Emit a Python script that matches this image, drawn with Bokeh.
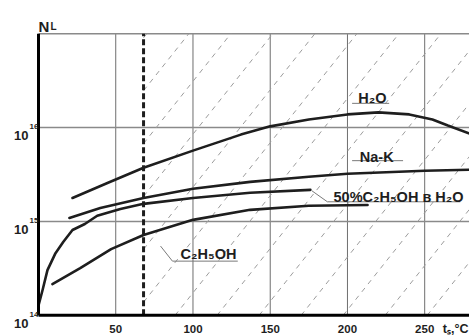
from bokeh.plotting import figure
from bokeh.models import Label, Range1d
from bokeh.embed import file_html
from bokeh.resources import INLINE

# ---------------- data ----------------
t_h2o = [22, 45, 68, 100, 131, 150, 175, 200, 220, 240, 255, 265, 279]
n_h2o = [1.78e15, 2.58e15, 3.73e15, 5.68e15, 8.41e15, 1.03e16, 1.22e16,
         1.38e16, 1.45e16, 1.38e16, 1.22e16, 1.05e16, 8.63e15]

t_nak = [20, 40, 68, 100, 137, 175, 200, 250, 279]
n_nak = [1.09e15, 1.39e15, 1.78e15, 2.23e15, 2.64e15, 2.99e15, 3.22e15,
         3.47e15, 3.56e15]

t_mix = [0, 2.6, 5.8, 11, 16, 22, 30, 38, 53, 68, 100, 137, 176]
n_mix = [1.28e14, 1.85e14, 3.03e14, 4.60e14, 6.04e14, 8.11e14, 9.40e14,
         1.15e15, 1.36e15, 1.54e15, 1.78e15, 2.02e15, 2.17e15]

t_eth = [9, 27, 47, 68, 100, 137, 175, 213]
n_eth = [2.15e14, 3.18e14, 5.08e14, 7.18e14, 1.04e15, 1.33e15, 1.47e15, 1.50e15]

t_boundary = 68

x_ticks = [50, 100, 150, 200, 250]
y_ticks = [1e14, 1e15, 1e16]
y_tick_exp = ["14", "15", "16"]

series_names = ["H\u2082O", "Na-K", "50%C\u2082H\u2085OH \u0432 H\u2082O", "C\u2082H\u2085OH"]

# ---------------- layout / style ----------------
X_MIN, X_MAX = 0, 279          # plotting area
Y_MIN, Y_MAX = 1e14, 1e17
VIEW_X = (-24.6, 279)          # whole canvas incl. margins (labels live there)
VIEW_Y = (10 ** 13.775, 10 ** 17.353)
FONT = "'Liberation Sans', Arial, sans-serif"
INK = "#1e1e1e"

p = figure(width=469, height=336, output_backend="svg", toolbar_location=None,
           x_range=Range1d(*VIEW_X), y_range=Range1d(*VIEW_Y),
           y_axis_type="log", x_axis_location=None, y_axis_location=None,
           min_border=0)
p.outline_line_color = None
p.background_fill_color = "white"
p.border_fill_color = "white"
p.grid.visible = False

# grid lines
p.segment(x0=x_ticks, y0=[Y_MIN] * len(x_ticks), x1=x_ticks, y1=[Y_MAX] * len(x_ticks),
          line_color="#6e6e6e", line_width=1)
gy = y_ticks[1:] + [Y_MAX]
p.segment(x0=[X_MIN] * len(gy), y0=gy, x1=[X_MAX] * len(gy), y1=gy,
          line_color="#8a8a8a", line_width=1.5)

# diagonal hatch in the region right of the boundary
slope = 0.0207      # decades per degree
spacing = 27.2      # degrees between hatch lines
phase = 142.8
x0s, y0s, x1s, y1s = [], [], [], []
for n in range(-10, 8):
    xb = phase + spacing * n
    xs = max(xb, t_boundary)
    ls = 14 + slope * (xs - xb)
    if ls >= 17 or xs >= X_MAX:
        continue
    xe = xb + 3 / slope
    le = 17.0
    if xe > X_MAX:
        xe = X_MAX
        le = 14 + slope * (X_MAX - xb)
    x0s.append(xs); y0s.append(10 ** ls); x1s.append(xe); y1s.append(10 ** le)
p.segment(x0=x0s, y0=y0s, x1=x1s, y1=y1s, line_color="#9c9c9c",
          line_width=1, line_dash="5 5")

# boundary dashed line
p.segment(x0=[t_boundary], y0=[Y_MIN], x1=[t_boundary], y1=[Y_MAX],
          line_color=INK, line_width=3, line_dash="6 3")

# curves
for xs, ys in [(t_h2o, n_h2o), (t_nak, n_nak), (t_mix, n_mix), (t_eth, n_eth)]:
    p.line(xs, ys, line_color=INK, line_width=2.6, line_join="round", line_cap="round")

# axes lines
p.segment(x0=[X_MIN, X_MIN], y0=[Y_MIN, Y_MIN], x1=[X_MIN, X_MAX], y1=[Y_MAX, Y_MIN],
          line_color="black", line_width=3)

# leader lines / underlines for labels
leaders = [
    ([203, 227], [1.81e16, 1.81e16]),
    ([203, 236], [4.44e15, 4.44e15]),
    ([177, 187, 273], [2.12e15, 1.62e15, 1.62e15]),
    ([79, 86.7, 129], [5.47e14, 3.78e14, 3.78e14]),
]
for xs, ys in leaders:
    p.line(xs, ys, line_color="#7a7a7a", line_width=1)

# curve labels
label_pos = [(207, 2.04e16), (208, 4.9e15), (191, 1.83e15), (92, 4.49e14)]
for name, (lx, ly) in zip(series_names, label_pos):
    p.add_layout(Label(x=lx, y=ly, text=name, text_font=FONT, text_font_style="bold",
                       text_font_size="14.5px", text_color=INK,
                       text_baseline="alphabetic", text_align="left"))

# x tick labels
for t in x_ticks:
    p.add_layout(Label(x=t, y=Y_MIN, y_offset=-14, text=str(t), text_font=FONT,
                       text_font_style="bold", text_font_size="11.5px", text_color=INK,
                       text_align="center", text_baseline="alphabetic"))
# y tick labels
for v, e in zip(y_ticks, y_tick_exp):
    p.add_layout(Label(x=X_MIN, y=v, x_offset=-10, y_offset=-8, text="10",
                       text_font=FONT, text_font_style="bold", text_font_size="13px",
                       text_color=INK, text_align="right", text_baseline="alphabetic"))
    p.add_layout(Label(x=X_MIN, y=v, x_offset=-9, y_offset=1, text=e,
                       text_font=FONT, text_font_style="bold", text_font_size="8px",
                       text_color=INK, text_align="left", text_baseline="alphabetic"))

# axis titles
p.add_layout(Label(x=X_MIN, y=Y_MAX, y_offset=7, text="N", text_font=FONT,
                   text_font_style="bold", text_font_size="15px", text_color=INK,
                   text_align="left", text_baseline="alphabetic"))
p.add_layout(Label(x=X_MIN, y=Y_MAX, x_offset=12, y_offset=7, text="L", text_font=FONT,
                   text_font_style="bold", text_font_size="10px", text_color=INK,
                   text_align="left", text_baseline="alphabetic"))
p.add_layout(Label(x=X_MAX, y=Y_MIN, x_offset=-1, y_offset=-14, text="t\u209b,\u00b0C",
                   text_font=FONT, text_font_style="bold", text_font_size="12.5px",
                   text_color=INK, text_align="right", text_baseline="alphabetic"))

open("out.html", "w").write(file_html(p, INLINE))
